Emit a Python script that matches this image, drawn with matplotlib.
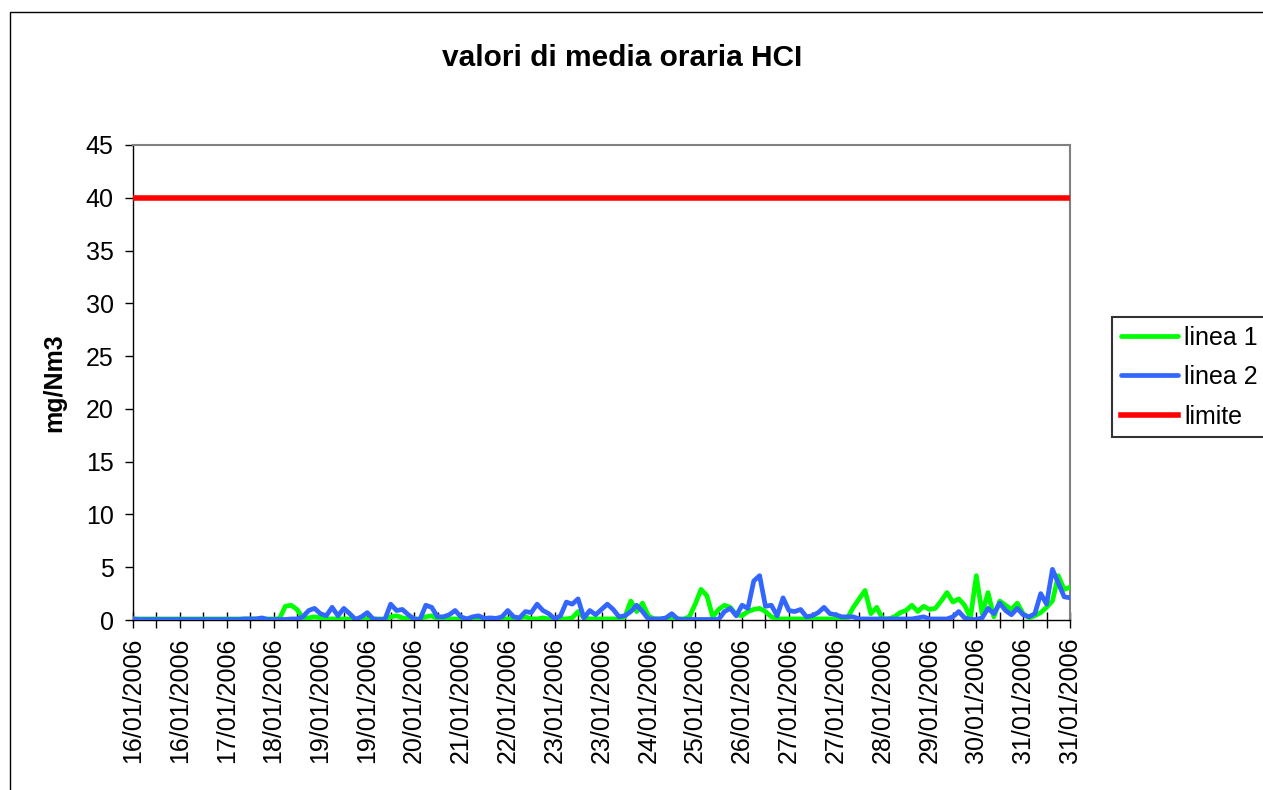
import matplotlib
matplotlib.use("Agg")
import matplotlib.pyplot as plt
from matplotlib.patches import Rectangle

plt.rcParams["font.family"] = ["Liberation Sans", "DejaVu Sans"]

# x axis labels (one every 8 samples, ticks every 4)
date_labels = [
    "16/01/2006", "16/01/2006", "17/01/2006", "18/01/2006", "19/01/2006",
    "19/01/2006", "20/01/2006", "21/01/2006", "22/01/2006", "23/01/2006",
    "23/01/2006", "24/01/2006", "25/01/2006", "26/01/2006", "27/01/2006",
    "27/01/2006", "28/01/2006", "29/01/2006", "30/01/2006", "31/01/2006",
    "31/01/2006",
]

linea_1 = [
    0.1, 0.1, 0.1, 0.1, 0.1, 0.1, 0.1, 0.1, 0.1, 0.1, 0.1, 0.1, 0.1, 0.1, 0.1, 0.1, 0.1, 0.1, 0.1, 0.1,
    0.1, 0.1, 0.1, 0.1, 0.1, 0.1, 1.3, 1.4, 1.0, 0.2, 0.2, 0.3, 0.2, 0.1, 0.1, 0.1, 0.1, 0.1, 0.1, 0.1,
    0.1, 0.1, 0.1, 0.1, 0.3, 0.4, 0.2, 0.1, 0.1, 0.1, 0.3, 0.4, 0.1, 0.1, 0.1, 0.1, 0.1, 0.1, 0.1, 0.1,
    0.1, 0.1, 0.1, 0.1, 0.1, 0.1, 0.2, 0.3, 0.1, 0.1, 0.2, 0.1, 0.1, 0.1, 0.1, 0.2, 0.8, 0.2, 0.1, 0.1,
    0.1, 0.1, 0.1, 0.1, 0.3, 1.8, 0.8, 1.6, 0.4, 0.1, 0.1, 0.1, 0.1, 0.1, 0.1, 0.3, 1.5, 2.9, 2.3, 0.3,
    1.0, 1.4, 1.2, 0.5, 0.4, 0.8, 1.0, 1.1, 0.8, 0.3, 0.1, 0.1, 0.1, 0.1, 0.1, 0.1, 0.1, 0.1, 0.1, 0.1,
    0.1, 0.1, 0.2, 1.2, 2.0, 2.8, 0.6, 1.2, 0.1, 0.1, 0.3, 0.7, 0.9, 1.4, 0.8, 1.3, 1.0, 1.1, 1.8, 2.6,
    1.7, 2.0, 1.4, 0.2, 4.2, 0.6, 2.6, 0.3, 1.8, 1.4, 1.0, 1.6, 0.6, 0.2, 0.4, 0.7, 1.2, 1.8, 4.2, 2.9,
    3.1,
]

linea_2 = [
    0.1, 0.05, 0.05, 0.05, 0.05, 0.05, 0.05, 0.05, 0.05, 0.05, 0.05, 0.05, 0.05, 0.05, 0.05, 0.05, 0.05, 0.05, 0.05, 0.1,
    0.1, 0.1, 0.2, 0.05, 0.05, 0.05, 0.05, 0.1, 0.1, 0.3, 0.9, 1.1, 0.6, 0.4, 1.2, 0.4, 1.1, 0.6, 0.05, 0.3,
    0.7, 0.1, 0.05, 0.05, 1.5, 0.9, 1.0, 0.5, 0.1, 0.05, 1.4, 1.2, 0.3, 0.3, 0.5, 0.9, 0.3, 0.1, 0.3, 0.4,
    0.15, 0.2, 0.15, 0.3, 0.9, 0.3, 0.2, 0.8, 0.7, 1.5, 0.9, 0.6, 0.1, 0.4, 1.7, 1.5, 2.0, 0.2, 0.9, 0.5,
    1.0, 1.5, 1.0, 0.3, 0.4, 0.8, 1.4, 0.8, 0.1, 0.1, 0.1, 0.2, 0.6, 0.1, 0.05, 0.05, 0.05, 0.05, 0.05, 0.05,
    0.05, 0.8, 1.1, 0.4, 1.4, 1.1, 3.7, 4.2, 1.3, 1.4, 0.4, 2.1, 0.9, 0.8, 1.0, 0.3, 0.4, 0.7, 1.2, 0.6,
    0.5, 0.3, 0.3, 0.3, 0.1, 0.1, 0.1, 0.1, 0.1, 0.1, 0.1, 0.1, 0.1, 0.1, 0.2, 0.3, 0.1, 0.1, 0.1, 0.1,
    0.3, 0.8, 0.2, 0.05, 0.05, 0.2, 1.1, 0.6, 1.6, 0.9, 0.5, 1.1, 0.5, 0.3, 0.6, 2.5, 1.5, 4.8, 3.5, 2.2,
    2.1,
]

limite = 40

W, H = 1263, 790
fig = plt.figure(figsize=(W / 100, H / 100), dpi=100)
ax = fig.add_axes([133 / W, 1 - 620 / H, (1070 - 133) / W, (620 - 145) / H])

x = range(len(linea_1))
ax.plot(x, linea_1, color="#00FF00", linewidth=3.4, label="linea 1", zorder=3,
        solid_joinstyle="round", solid_capstyle="round")
ax.plot(x, linea_2, color="#3366FF", linewidth=3.4, label="linea 2", zorder=4,
        solid_joinstyle="round", solid_capstyle="round")
ax.axhline(limite, color="#FF0000", linewidth=4, label="limite", zorder=5)

ax.set_xlim(0, len(linea_1) - 1)
ax.set_ylim(0, 45)
ax.set_yticks(range(0, 46, 5))

step = 4
tick_pos = list(range(0, len(linea_1), step))
ax.set_xticks(tick_pos)
ax.set_xticklabels([date_labels[k // 2] if k % 2 == 0 else "" for k in range(len(tick_pos))],
                   rotation=90, fontsize=18)
ax.tick_params(axis="x", direction="inout", length=11, width=1, pad=7, colors="black")
ax.tick_params(axis="y", direction="out", length=6, width=1, pad=8, labelsize=18)

for side in ("top", "right"):
    ax.spines[side].set_color("#808080")
    ax.spines[side].set_linewidth(1.5)
for side in ("left", "bottom"):
    ax.spines[side].set_color("black")
    ax.spines[side].set_linewidth(1)

ax.set_ylabel("mg/Nm3", fontsize=18, fontweight="bold", labelpad=14)

fig.text(621.7 / W, 1 - 66 / H, "valori di media oraria HCI", ha="center", va="baseline",
         fontsize=21.5, fontweight="bold")

leg = ax.legend(loc="upper left", bbox_to_anchor=(1112 / W, 1 - 317 / H),
                bbox_transform=fig.transFigure, borderaxespad=0, fontsize=18,
                frameon=True, fancybox=False, edgecolor="black", handlelength=2.3,
                handletextpad=0.25, borderpad=0.35, labelspacing=0.62)
leg.get_frame().set_linewidth(1.5)

# outer chart border (cut off at right and bottom like the original)
top = 1 - 12 / H
fig.patches.append(Rectangle((9.5 / W, -0.2), 1.2, top + 0.2, transform=fig.transFigure,
                             fill=False, edgecolor="black", linewidth=1))

fig.savefig("out.png", dpi=100, facecolor="white")
